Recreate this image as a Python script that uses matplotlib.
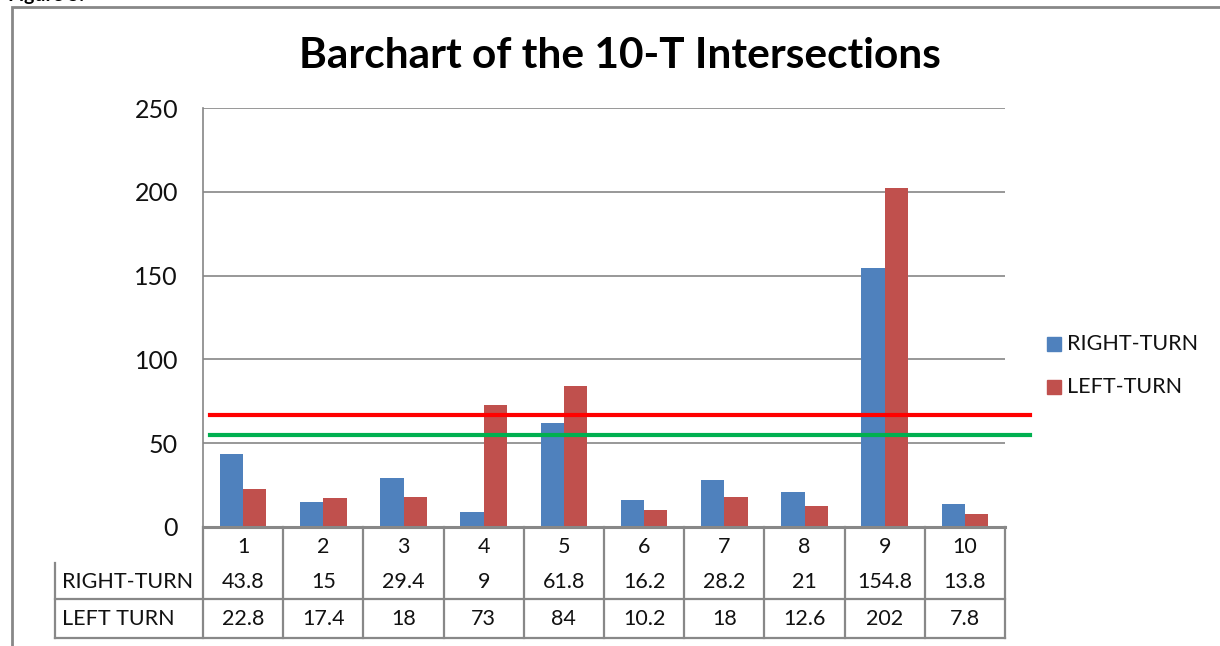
import matplotlib
matplotlib.use("Agg")
import matplotlib.pyplot as plt
from matplotlib.lines import Line2D
from matplotlib.patches import Rectangle
import matplotlib.transforms as mtransforms
import numpy as np

categories = ["1", "2", "3", "4", "5", "6", "7", "8", "9", "10"]
right_turn = [43.8, 15, 29.4, 9, 61.8, 16.2, 28.2, 21, 154.8, 13.8]
left_turn = [22.8, 17.4, 18, 73, 84, 10.2, 18, 12.6, 202, 7.8]
right_labels = ["43.8", "15", "29.4", "9", "61.8", "16.2", "28.2", "21", "154.8", "13.8"]
left_labels = ["22.8", "17.4", "18", "73", "84", "10.2", "18", "12.6", "202", "7.8"]
yticks = [0, 50, 100, 150, 200, 250]
red_ref = 67
green_ref = 55

W, H = 1220, 646
plt.rcParams['font.family'] = ['Lato', 'DejaVu Sans']
fig = plt.figure(figsize=(W / 100, H / 100), dpi=100)

def fx(px):
    return px / W

def fy(py):
    return 1 - py / H

BLUE = "#4F81BD"
RED = "#C0504D"
GRID = "#868686"
TXT = "#111111"

ax = fig.add_axes([fx(203), fy(527), fx(1005) - fx(203), fy(108) - fy(527)])
x = np.arange(len(categories))
bw = 0.29
ax.bar(x - bw / 2, right_turn, bw, color=BLUE, label="RIGHT-TURN", zorder=3)
ax.bar(x + bw / 2, left_turn, bw, color=RED, label="LEFT-TURN", zorder=3)
ax.set_xlim(-0.5, len(categories) - 0.5)
ax.set_ylim(0, 250)
ax.set_yticks(yticks)
ax.set_yticklabels([str(v) for v in yticks], fontsize=18)
ax.tick_params(axis='y', length=0, pad=18, colors=TXT)
ax.set_xticks([])
ax.yaxis.grid(True, color=GRID, linewidth=1.2, zorder=0)
for s in ["top", "right", "bottom"]:
    ax.spines[s].set_visible(False)
ax.spines["left"].set_color(GRID)
ax.spines["left"].set_linewidth(1.2)

# reference lines extending past plot area
x0 = -0.5 + 7 / 80.2
x1 = len(categories) - 0.5 + 25 / 80.2
ax.plot([x0, x1], [red_ref, red_ref], color="#FF0000", lw=3, clip_on=False, zorder=4)
ax.plot([x0, x1], [green_ref, green_ref], color="#00B050", lw=3, clip_on=False, zorder=4)

# title
fig.text(fx(620), fy(56), "Barchart of the 10-T Intersections", ha="center", va="center",
         fontsize=30.5, fontweight="bold", color="black")

# data table
tb = mtransforms.blended_transform_factory(ax.transData, fig.transFigure)
TCOL = "#888888"
lw_t = 1.6
ytop, ymid, ybot, ylabtop = fy(527), fy(599), fy(638), fy(563)
fig.add_artist(Line2D([fx(203), fx(1005)], [ytop, ytop], color=TCOL, lw=2.2, transform=fig.transFigure))
fig.add_artist(Line2D([fx(55), fx(1005)], [ymid, ymid], color=TCOL, lw=lw_t, transform=fig.transFigure))
fig.add_artist(Line2D([fx(55), fx(1005)], [ybot, ybot], color=TCOL, lw=lw_t, transform=fig.transFigure))
fig.add_artist(Line2D([fx(55), fx(55)], [ylabtop, ybot], color=TCOL, lw=lw_t, transform=fig.transFigure))
for i in range(len(categories) + 1):
    xb = i - 0.5
    fig.add_artist(Line2D([xb, xb], [ytop, ybot], color=TCOL, lw=lw_t, transform=tb))
FS = 15.5
for i, c in enumerate(categories):
    fig.text(i, fy(547), c, transform=tb, ha="center", va="center", fontsize=FS, color=TXT)
    fig.text(i, fy(582), right_labels[i], transform=tb, ha="center", va="center", fontsize=FS, color=TXT)
    fig.text(i, fy(619), left_labels[i], transform=tb, ha="center", va="center", fontsize=FS, color=TXT)
fig.text(fx(62), fy(582), "RIGHT-TURN", ha="left", va="center", fontsize=FS, color=TXT)
fig.text(fx(62), fy(619), "LEFT TURN", ha="left", va="center", fontsize=FS, color=TXT)

# legend
for yy, col, lab in [(344, BLUE, "RIGHT-TURN"), (387, RED, "LEFT-TURN")]:
    fig.add_artist(Rectangle((fx(1047), fy(yy + 7)), fx(14), 14 / H, color=col, transform=fig.transFigure))
    fig.text(fx(1067), fy(yy), lab, ha="left", va="center", fontsize=FS, color=TXT)

# outer frame
fig.add_artist(Line2D([fx(12), fx(12), fx(1225)], [fy(650), fy(7), fy(7)], color="#888888", lw=2,
                      transform=fig.transFigure, solid_joinstyle="miter"))
# caption cut off at the top, as in the source image
fig.text(fx(8), fy(1), "Figure 5.", ha="left", va="baseline", fontsize=14, fontweight="bold")

fig.savefig("out.png", dpi=100)
